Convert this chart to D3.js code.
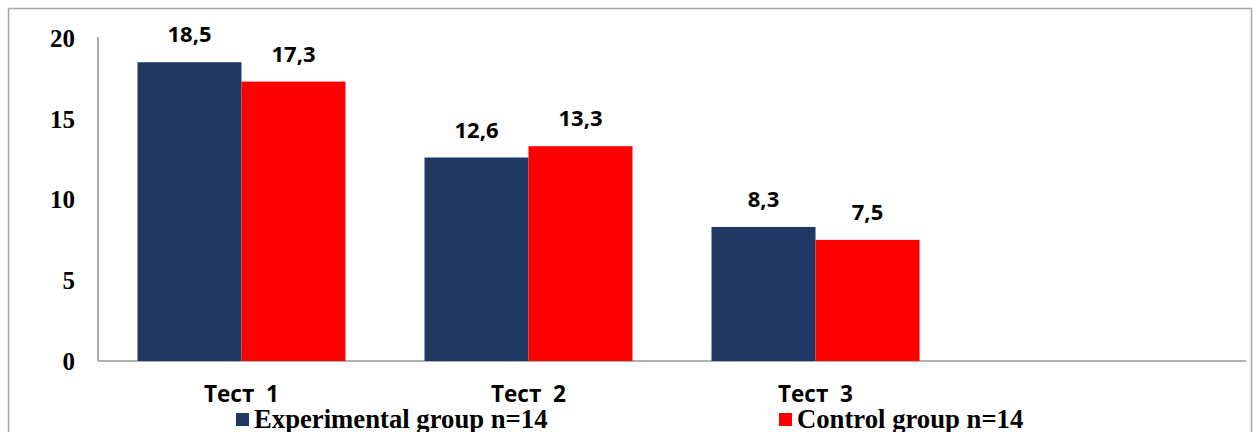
<!DOCTYPE html>
<html>
<head>
<meta charset="utf-8">
<script src="https://cdn.jsdelivr.net/npm/d3@7"></script>
<style>
  body { margin: 0; background: #fff; }
  svg { display: block; }
</style>
</head>
<body>
<svg id="chart"></svg>
<script>
// Categories (the last slot is empty in the original chart)
const categories = ["Тест  1", "Тест  2", "Тест  3", ""];
const seriesNames = ["Experimental group n=14", "Control group n=14"];
const experimental = [18.5, 12.6, 8.3];
const control = [17.3, 13.3, 7.5];
const yTicks = [0, 5, 10, 15, 20];
const colors = ["#203864", "#ff0000"];

const width = 1257;
const height = 432;
const margin = { top: 38, right: 11, bottom: 71, left: 98 };
const innerWidth = width - margin.left - margin.right;
const innerHeight = height - margin.top - margin.bottom;

const svg = d3.select("#chart").attr("width", width).attr("height", height);

// Outer frame
svg.append("rect")
	.attr("x", 8.5).attr("y", 8.5)
	.attr("width", 1243).attr("height", 440)
	.attr("fill", "none")
	.attr("stroke", "#a6a6a6")
	.attr("stroke-width", 1.5);

const g = svg.append("g").attr("transform", `translate(${margin.left}, ${margin.top})`);

const x = d3.scaleBand().domain(categories).range([0, innerWidth]).paddingInner(0).paddingOuter(0);
const y = d3.scaleLinear().domain([0, 20]).range([innerHeight, 0]);
const xs = d3.scaleBand().domain([0, 1]).range([39.5, x.bandwidth() - 39.5]);

// Axis lines
g.append("line")
	.attr("x1", 0).attr("x2", 0)
	.attr("y1", y(20) - 1).attr("y2", innerHeight)
	.attr("stroke", "#b0b0b0").attr("stroke-width", 2);
g.append("line")
	.attr("x1", 0).attr("x2", innerWidth)
	.attr("y1", innerHeight).attr("y2", innerHeight)
	.attr("stroke", "#b0b0b0").attr("stroke-width", 2);

// Y tick labels
g.selectAll("text.ytick")
	.data(yTicks)
	.enter()
	.append("text")
	.attr("class", "ytick")
	.attr("x", -23)
	.attr("y", (d) => y(d))
	.attr("dy", "0.35em")
	.attr("text-anchor", "end")
	.attr("font-family", "'Liberation Serif', 'Times New Roman', serif")
	.attr("font-weight", "bold")
	.attr("font-size", 25)
	.text((d) => d);

// Bars
const rows = categories.slice(0, 3).map((c, i) => ({ cat: c, values: [experimental[i], control[i]] }));
const groups = g.selectAll("g.cat")
	.data(rows)
	.enter()
	.append("g")
	.attr("transform", (d) => `translate(${x(d.cat)}, 0)`);

groups.selectAll("rect")
	.data((d) => d.values.map((v, i) => ({ v, i })))
	.enter()
	.append("rect")
	.attr("x", (d) => xs(d.i))
	.attr("y", (d) => y(d.v))
	.attr("width", xs.bandwidth())
	.attr("height", (d) => innerHeight - y(d.v))
	.attr("fill", (d) => colors[d.i]);

// Value labels
const fmt = (v) => v.toFixed(1).replace(".", ",");
groups.selectAll("text")
	.data((d) => d.values.map((v, i) => ({ v, i })))
	.enter()
	.append("text")
	.attr("x", (d) => xs(d.i) + xs.bandwidth() / 2)
	.attr("y", (d) => y(d.v) - 20)
	.attr("text-anchor", "middle")
	.attr("font-family", "'Open Sans', sans-serif")
	.attr("font-weight", "bold")
	.attr("font-size", 22)
	.text((d) => fmt(d.v));

// Category labels
g.selectAll("text.xcat")
	.data(categories.slice(0, 3))
	.enter()
	.append("text")
	.attr("class", "xcat")
	.attr("x", (d) => x(d) + x.bandwidth() / 2)
	.attr("y", innerHeight + 41)
	.attr("text-anchor", "middle")
	.attr("font-family", "'Open Sans', sans-serif")
	.attr("font-weight", "bold")
	.attr("font-size", 22.5)
	.style("white-space", "pre")
	.text((d) => d);

// Legend
const legendX = [236, 779];
const legend = svg.selectAll("g.legend")
	.data(seriesNames)
	.enter()
	.append("g")
	.attr("transform", (d, i) => `translate(${legendX[i]}, 413)`);
legend.append("rect")
	.attr("width", 13).attr("height", 13)
	.attr("fill", (d, i) => colors[i]);
legend.append("text")
	.attr("x", 18)
	.attr("y", 15)
	.attr("font-family", "'Liberation Serif', 'Times New Roman', serif")
	.attr("font-weight", "bold")
	.attr("font-size", 26.7)
	.text((d) => d);
</script>
</body>
</html>
